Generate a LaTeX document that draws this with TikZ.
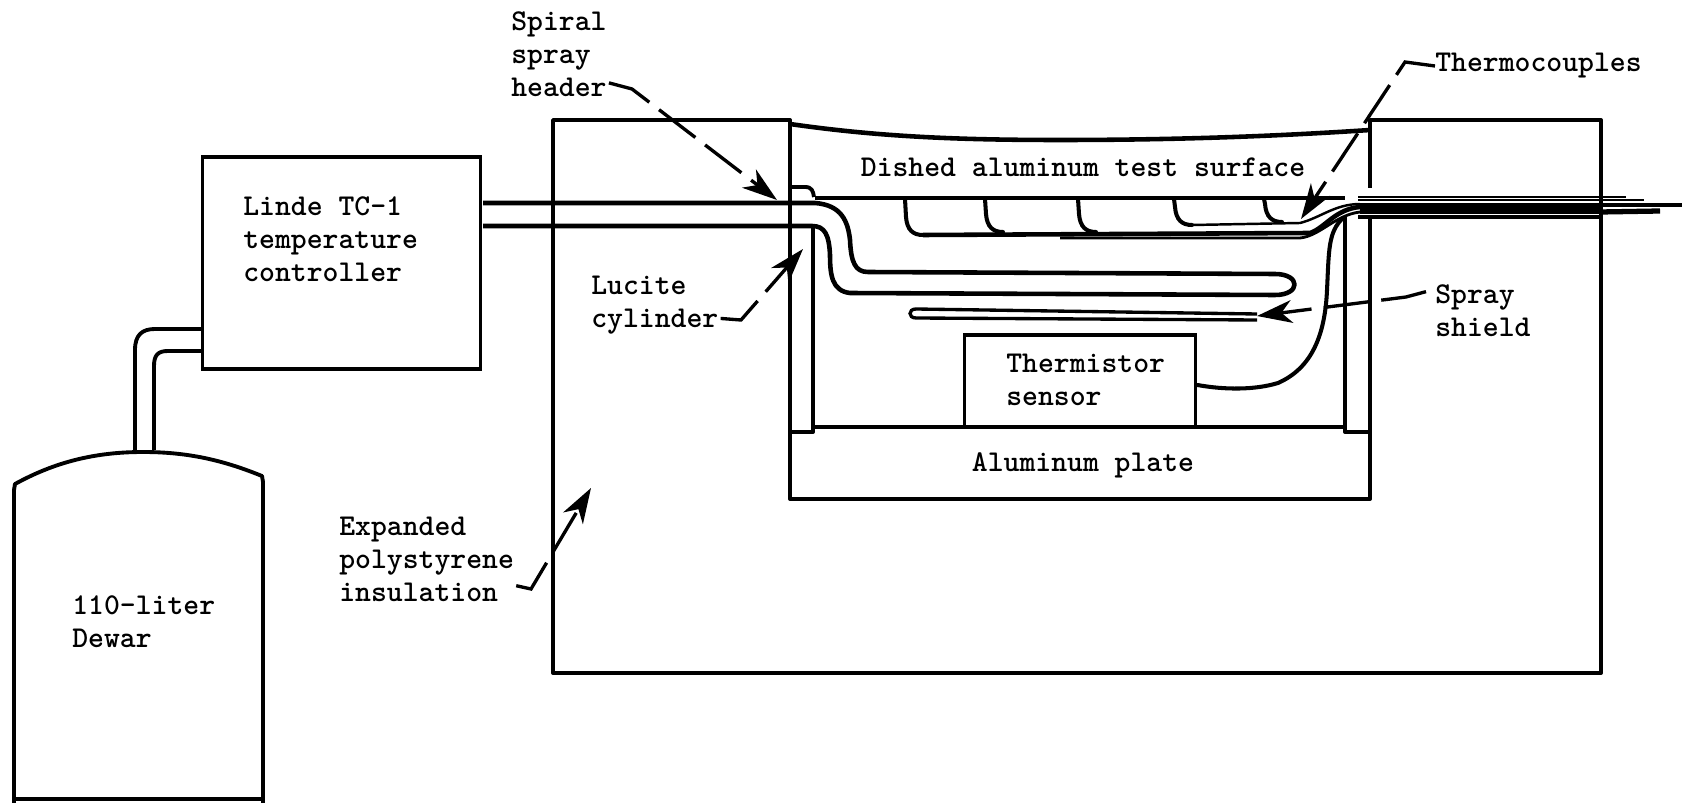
\documentclass[tikz,border=0pt]{standalone}
\usepackage{xcolor}
\usepackage{tikz}
\usetikzlibrary{arrows.meta}
\tikzset{
  lbl/.style={font=\ttfamily\bfseries\fontsize{17.2}{18.8}\selectfont, inner sep=0pt, align=left, anchor=west},
  wall/.style={line width=2.2pt, line join=round},
  wire/.style={line width=2.3pt, line cap=round},
  fine/.style={line width=0.9pt},
  lead/.style={-{Stealth[length=20pt,width=13pt,inset=6pt]}, line width=1.9pt, dash pattern=on 26pt off 7pt},
}
\begin{document}
\begin{tikzpicture}[x=0.02cm,y=-0.02cm]
  \useasboundingbox (0,0) rectangle (1682,803);
  % Dewar and transfer line
  \draw[wall] (14,803) -- (14,490) -- (15,484) .. controls (55,462) and (95,452) .. (143,452)
     .. controls (190,452) and (225,461) .. (262,476) -- (263,482) -- (263,803);
  \draw[wall] (14,799) -- (263,799);
  \node[draw, line width=2.2pt, minimum width=279pt*0.5669, minimum height=213pt*0.5669, inner sep=0pt] (ctrl) at (341.5,263) {};
  \coordinate (ctrlA) at (202,329);
  \coordinate (ctrlB) at (202,351);
  \draw[wall] (135,450) -- (135,350) .. controls (135,335) and (142,329) .. (155,329) -- (ctrlA);
  \draw[wall] (154,450) -- (154,366) .. controls (154,355) and (158,351) .. (168,351) -- (ctrlB);
  % insulation block
  \draw[wall] (1370,188) -- (1370,120) -- (1601,120) -- (1601,673) -- (553,673) -- (553,120) -- (790,120) -- (790,499) -- (1370,499) -- (1370,217);
  \draw[wall] (1358,217) -- (1601,217);
  % dish
  \draw[line width=2.6pt] (790,124) .. controls (880,137) and (960,140) .. (1060,140) .. controls (1180,140) and (1280,136) .. (1370,130);
  \draw[line width=1.9pt] (815,198) -- (1345,198);
  \draw[wall] (790,187) -- (805,187) .. controls (812,187) and (813,191) .. (814,197);
  % cylinders
  \draw[wall] (813,226) -- (813,432) -- (790,432);
  \draw[wall] (1345,217) -- (1345,432) -- (1370,432);
  \draw[wall] (813,427) -- (1345,427);
  % spray tube
  \draw[line width=2.6pt, line join=round] (483,203) -- (815,203) .. controls (842,205) and (848,222) .. (850,240)
     .. controls (851,262) and (855,272) .. (868,272) -- (1275,274)
     .. controls (1301,274) and (1301,295) .. (1275,295) -- (850,293)
     .. controls (832,291) and (830,275) .. (830,255) .. controls (829,235) and (825,226) .. (812,226) -- (483,226);
  % spray shield
  \draw[line width=1.9pt] (1257,314) -- (916,309) .. controls (908,309) and (908,318) .. (916,318) -- (1257,320);
  % thermistor
  \node[draw, line width=2.2pt, minimum width=232pt*0.5669, minimum height=92pt*0.5669, inner sep=0pt] (thbox) at (1080,381) {};
  \draw[wire] (thbox.east |- 0,385) .. controls (1225,390) and (1255,390) .. (1278,383)
     .. controls (1312,368) and (1325,335) .. (1327,290) .. controls (1329,250) and (1328,232) .. (1343,218);
  % thermocouples
  \foreach \lx/\ly in {905/235,985/232,1078/232,1174/225,1264/222} {
    \draw[wire] (\lx,199) -- (\lx+1,\ly-18) .. controls (\lx+2,\ly-5) and (\lx+8,\ly) .. (\lx+18,\ly);
  }
  \draw[line width=2.6pt] (923,235) -- (1310,233) .. controls (1325,228) and (1335,209) .. (1360,207);
  \draw[line width=1.4pt] (1192,225) -- (1300,223) .. controls (1320,218) and (1335,204) .. (1360,204);
  \draw[line width=1.6pt] (1060,238) -- (1300,238) .. controls (1320,236) and (1335,215) .. (1360,212);
  % bundle of leads
  \draw[line width=1.4pt] (1358,197) -- (1626,197);
  \draw[line width=1.4pt] (1358,200) -- (1644,200);
  \draw[line width=5pt] (1360,210) -- (1600,210);
  \draw[line width=2.2pt] (1360,205) -- (1682,205);
  \draw[line width=3pt] (1600,212) -- (1660,211);
  % labels
  \node[lbl] (spiral) at (511,54) {Spiral\\spray\\header};
  \node[lbl] (thermo) at (1435,66) {Thermocouples};
  \node[lbl, anchor=center] (dished) at (1083,167) {Dished aluminum test surface};
  \node[lbl] (linde) at (243,239) {Linde TC-1\\temperature\\controller};
  \node[lbl] (lucite) at (591,305) {Lucite\\cylinder};
  \node[lbl] (shield) at (1435,311) {Spray\\shield};
  \node[lbl] (sensor) at (1006,380) {Thermistor\\sensor};
  \node[lbl, anchor=center] (plate) at (1083,465) {Aluminum plate};
  \node[lbl] (foam) at (339,559) {Expanded\\polystyrene\\insulation};
  \node[lbl] (dewar) at (72,622) {110-liter\\Dewar};
  % leaders
  \coordinate (tipSpiral) at (777,200);
  \coordinate (tipThermo) at (1301,219);
  \coordinate (tipLucite) at (803,249);
  \coordinate (tipShield) at (1257,316);
  \coordinate (tipFoam) at (591,488);
  \draw[lead] (spiral.south east) ++(2,-14) -- (632,89) -- (tipSpiral);
  \draw[lead] (thermo.west) -- (1405,62) -- (tipThermo);
  \draw[lead] (lucite.south east) ++(2,-16) -- (741,320) -- (tipLucite);
  \draw[lead] (shield.north west) ++(-9,7) -- (1406,297) -- (tipShield);
  \draw[lead] (foam.south east) ++(2,-16) -- (531,589) -- (tipFoam);
\end{tikzpicture}
\end{document}
